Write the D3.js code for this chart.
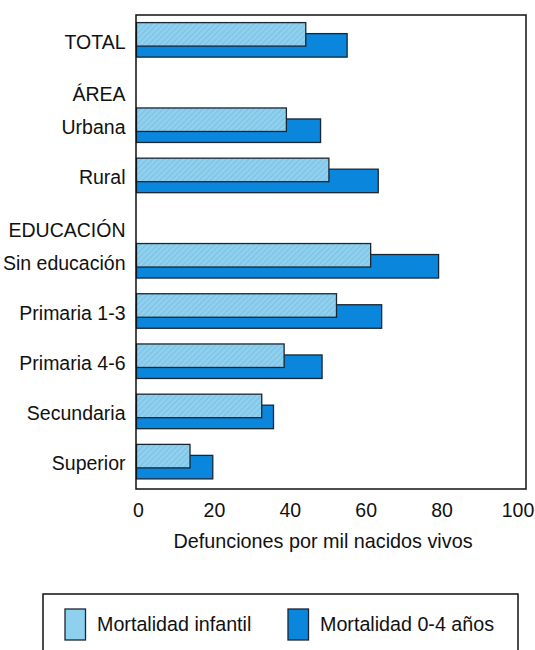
<!DOCTYPE html>
<html><head><meta charset="utf-8">
<script src="https://cdn.jsdelivr.net/npm/d3@7"></script>
<style>body{margin:0;background:#fff}svg{display:block;font-family:"Liberation Sans",Arial,Helvetica,sans-serif}</style>
</head><body>
<svg id="chart" width="535" height="650"></svg>
<script>
// Rows: headers (no bars) and categories
const rowLabels = ["TOTAL","ÁREA","Urbana","Rural","EDUCACIÓN","Sin educación","Primaria 1-3","Primaria 4-6","Secundaria","Superior"];
const rowIsHeader = [false,true,false,false,true,false,false,false,false,false];
const categories = ["TOTAL","Urbana","Rural","Sin educación","Primaria 1-3","Primaria 4-6","Secundaria","Superior"];
const mortalidadInfantil = [44.6, 39.5, 50.7, 61.7, 52.7, 38.9, 33, 14.1];
const mortalidad04 = [55.5, 48.5, 63.7, 79.6, 64.6, 48.9, 36.1, 20.1];
const xTicks = [0, 20, 40, 60, 80, 100];
const seriesNames = ["Mortalidad infantil", "Mortalidad 0-4 años"];
const colors = ["#8fd0ef", "#0a86dc"];

const svg = d3.select("#chart");
const pLeft = 136, pRight = 526, pTop = 15, pBottom = 489;
const fs = 19.5;

// compute row slot positions: bar rows 1 unit, header rows 0.7 unit
let acc = -0.5; const rowPos = [];
rowLabels.forEach((l, i) => {
  const w = rowIsHeader[i] ? 0.7 : 1;
  rowPos.push(acc + w / 2);
  acc += w;
});
const y = d3.scaleLinear().domain([-0.5, 8.94]).range([pTop, pBottom]);
const x = d3.scaleLinear().domain([0, 100]).range([136.5, 516]);
const posOf = {};
rowLabels.forEach((l, i) => posOf[l] = rowPos[i]);

// hatch pattern
const defs = svg.append("defs");
const pat = defs.append("pattern").attr("id", "hatch").attr("patternUnits", "userSpaceOnUse")
  .attr("width", 4).attr("height", 4).attr("patternTransform", "rotate(45)");
pat.append("rect").attr("width", 4).attr("height", 4).attr("fill", colors[0]);
pat.append("line").attr("x1", 0).attr("y1", 0).attr("x2", 0).attr("y2", 4)
  .attr("stroke", "#6fb5da").attr("stroke-width", 1.2);

const data = categories.map((c, i) => ({c, inf: mortalidadInfantil[i], m04: mortalidad04[i]}));

// 0-4 bars (behind)
svg.append("g").selectAll("rect").data(data).join("rect")
  .attr("x", x(0)).attr("y", d => y(posOf[d.c]) - 6.5)
  .attr("width", d => x(d.m04) - x(0)).attr("height", 23.5)
  .attr("fill", colors[1]).attr("stroke", "#1b2633").attr("stroke-width", 1.3);
// infantil bars (front)
svg.append("g").selectAll("rect").data(data).join("rect")
  .attr("x", x(0)).attr("y", d => y(posOf[d.c]) - 17.5)
  .attr("width", d => x(d.inf) - x(0)).attr("height", 23.5)
  .attr("fill", "url(#hatch)").attr("stroke", "#1b2633").attr("stroke-width", 1.3);

// frame
svg.append("rect").attr("x", pLeft).attr("y", pTop).attr("width", pRight - pLeft).attr("height", pBottom - pTop)
  .attr("fill", "none").attr("stroke", "#111").attr("stroke-width", 1.5);

// row labels
svg.append("g").selectAll("text").data(rowLabels).join("text")
  .attr("x", 125.5).attr("y", (d, i) => y(rowPos[i]) + (rowIsHeader[i] ? 18.5 : 8.5))
  .attr("text-anchor", "end").attr("font-size", fs).attr("fill", "#111").text(d => d);

// x axis tick labels
const xAxis = d3.axisBottom(x).tickValues(xTicks).tickSize(0).tickPadding(14).tickFormat(d3.format("d"));
const ax = svg.append("g").attr("transform", `translate(0,${pBottom})`).call(xAxis);
ax.select(".domain").remove();
ax.selectAll("text").attr("font-size", fs).attr("fill", "#111")
  .attr("font-family", "'Liberation Sans',Arial,sans-serif")
  .attr("dx", 1.5);

svg.append("text").attr("x", 323).attr("y", 547.5).attr("text-anchor", "middle")
  .attr("font-size", 19.8).attr("fill", "#111").text("Defunciones por mil nacidos vivos");

// legend
svg.append("rect").attr("x", 43).attr("y", 594).attr("width", 475).attr("height", 80)
  .attr("fill", "none").attr("stroke", "#111").attr("stroke-width", 1.5);
const legX = [65, 288];
const lg = svg.append("g").selectAll("g").data(seriesNames).join("g")
  .attr("transform", (d, i) => `translate(${legX[i]},609)`);
lg.append("rect").attr("width", 20.5).attr("height", 31).attr("fill", (d, i) => colors[i])
  .attr("stroke", "#1b2633").attr("stroke-width", 1.3);
lg.append("text").attr("x", 32).attr("y", 22).attr("font-size", 19.7).attr("fill", "#111").text(d => d);
</script>
</body></html>
